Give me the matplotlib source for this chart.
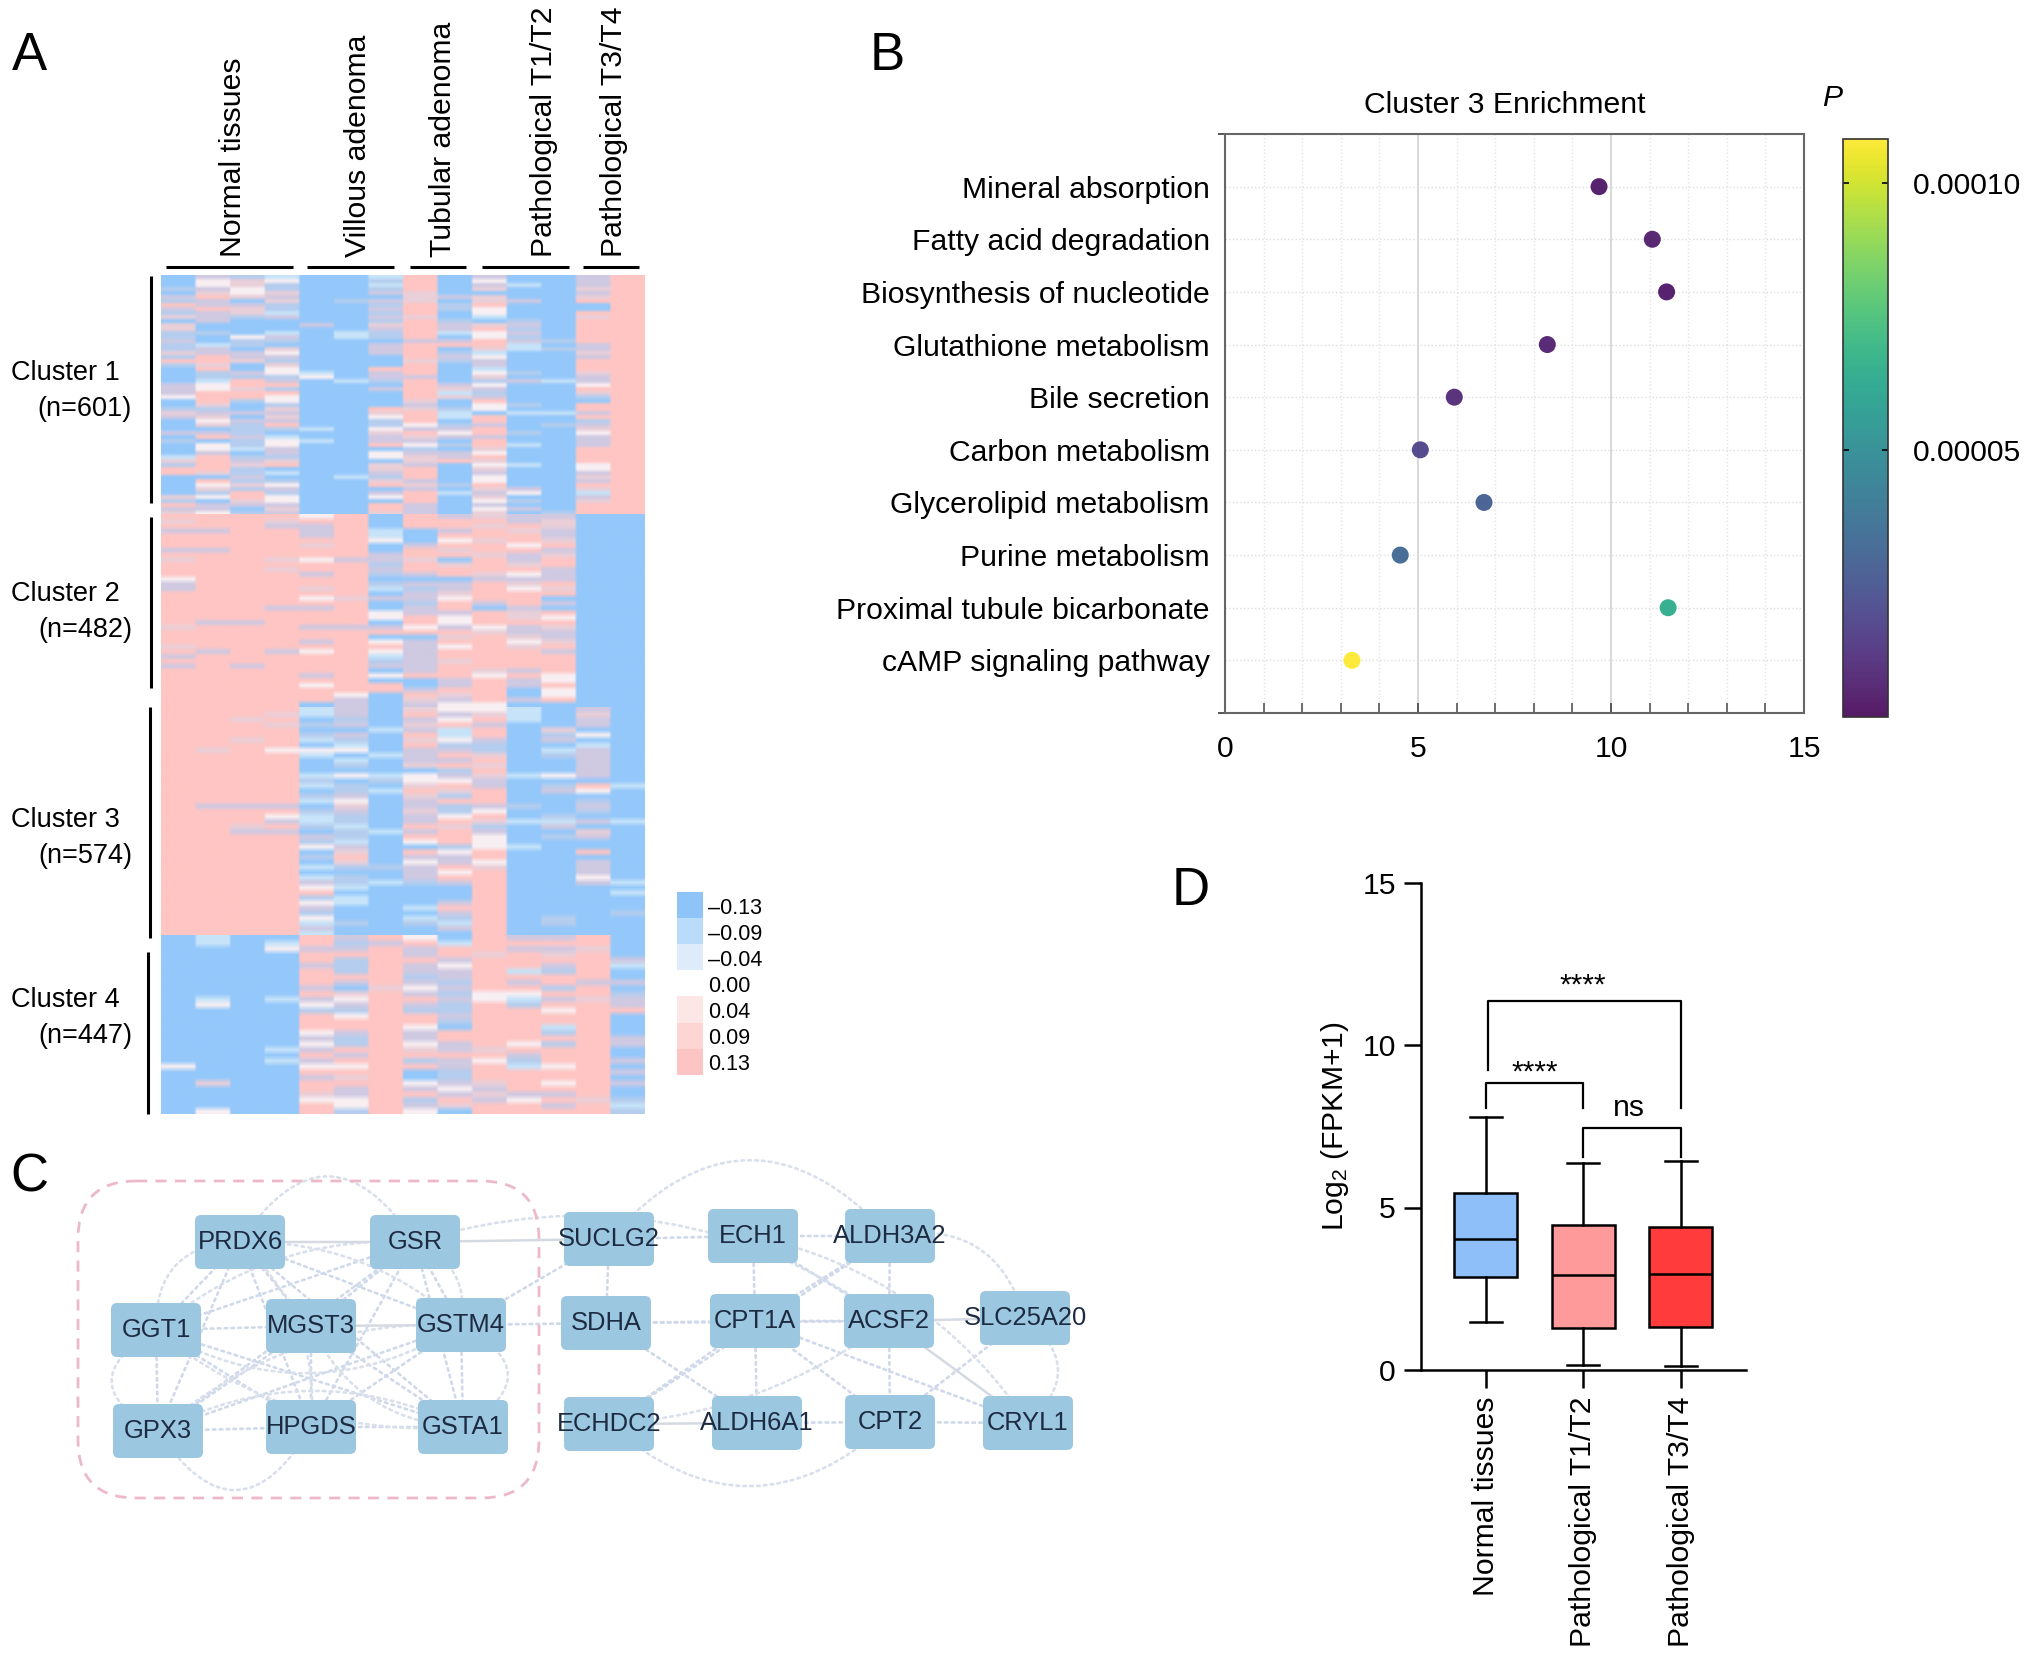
import matplotlib
matplotlib.use('Agg')
import numpy as np
import matplotlib.pyplot as plt
from matplotlib.colors import ListedColormap
from matplotlib.patches import FancyArrowPatch, FancyBboxPatch, Rectangle
from matplotlib.ticker import MultipleLocator

plt.rcParams['font.family'] = ['Liberation Sans', 'DejaVu Sans']
plt.rcParams['mathtext.default'] = 'regular'

W, H = 2032, 1653

# Panel A: heatmap cells
# B blue, C pale cyan, b blue-lilac, L lilac, l pink-lilac, P pink, W near white
cluster1_rows = [
    'BLbCBBCPBLBBLP', 'BWlWBBbPBWBBLP', 'BWlbBBCPBLCBLP', 'bLWbBBbPBlBBlP', 'BlWlBBLlBBBBLP',
    'LPlLBBBlLlBBlP', 'bLBlBbLlBlLBPP', 'PLLbBBbPbPBBBP', 'LPlbBBLPbWBBBP', 'bLlCBBbPBWBBPP',
    'lLbLBBLlBCBBlP', 'BLBBBBbPbBbBPP', 'lBBBLBlPLlLBPP', 'lBBBBBLPLPbBPP', 'bbBCBCbPCWLBPP',
    'bBWLBCbPBWbBPP', 'LBbbBBBLLPLbPP', 'bCbBBBLPPPCBLP', 'bLBlBBLPBlCbLP', 'lLLWBBLPbCBBlP',
    'bPLLBBBPLWBBLP', 'PPlbBBBlbLBBPP', 'blBlBBBPBLBBPP', 'BPBWBBPPBCBBPP', 'BbLWCBLPBWbBlP',
    'BbbbWBLLBlBBLP', 'BCPLBCbPBbLCLP', 'LWPPBBBPLWBBWP', 'LWlbBBLPlLBBPP', 'LPPPBBBPCbBBlP',
    'WPPWBBBPlLBBbP', 'BPbWBBBlBPBBBP', 'BlBbBBBLBWbBPP', 'bbBlBBPlbWBBPP', 'lLLLBBlPCBCCLP',
    'LlBlBBWPCPBBPP', 'BWLLBBbPBPBBbP', 'BlbPBBbWbLBbLP', 'BBbbCBWLLPBBlP', 'LLbBBBlPWPbBWP',
    'BPLCBBLlLLBBLP', 'bBbWCBLLBPBBLP', 'BWbWBBPWbPCBLP', 'BWCLBBBbBlBBPP', 'BLBLBBWLLWBBPP',
    'CPbbBBWlLPBBPP', 'lPLlBBBlPlBBPP', 'bPlPBBlLBWCBWP', 'PPbBBBlPBlBBWP', 'PlbCBBLPBLBBLP',
    'BBLBBCbPBWBBlP', 'BPbbBBlLBWBBLP', 'BWlWBBPlbPBBPP', 'BlbLBBBLBlLBlP', 'BbPbBBLPCLWBCP',
    'lWPWBBWPBlBBLP', 'bBlWBBBPBWbBlP', 'PLLLBBPLBLBBPP', 'LLBlBBPLBWLBPP', 'lWbLBBlLBlBbPP',
]
cluster2_rows = [
    'PPPPWPBPLlLLBB', 'lPPlPPBPPPLlBB', 'PPPLLPBPPlPlBB', 'LLPPLPCBLPlLBB', 'PPPPLPCBPPPLBB',
    'PPPPPPWBWlPlBB', 'PPPPlPBLPPWPBB', 'LLPPPPBPlPPLBB', 'PPPPPPLPPlLlBB', 'lPPlWLLlBPLPBB',
    'PPPPPPbPlPlPBB', 'PPPlPPLPPPPLBB', 'PPPPLPbLPlWLBB', 'WPPPPPBBBLLLBB', 'LPPPPPbLLPlPBB',
    'LPPPlPCbLPWlBB', 'PPPPPPBLlPPPBB', 'PPPPWlLLWPPBBB', 'PPPPPPBbPLPLBB', 'PPPLLPBLPBLBBB',
    'PPPPPPWLLPlPBB', 'PPPPPPWPWPlWBB', 'PLLPPPBPWPPPBB', 'lPPPLLLWLWLlBB', 'PPPPPPPPPlLLBB',
    'PPPPPPBBlPlLBB', 'PPPPLPWLPPWlBB', 'lPPPPPPLWPlPBB', 'PLPLWPWLPPPLBB', 'LPPPPPCLPPPPBB',
    'PPPPPPbLlPPPBB', 'LPLPPPLLPPPPBB', 'PPPPPPBLPlLPBB', 'PPPPLPWPPWPWBB', 'PPPPPPBBLPLWBB',
    'PPPPWPPBLPLPBB', 'PPPPPPPLPPBWBB', 'PPPPPWBPlPBWBB', 'PPPPPLBlLPLPBB', 'PPPPBLBLWWBBBB',
]
cluster3_rows = [
    'PPPPCLBlWWCBLB', 'PPPlCLBPLlCBlB', 'PPlPBbBLWPCBLB', 'PPPlbLBlPLBBLB', 'PPPPBBCLCPBlBB',
    'PPPPbLBPCPBbWB', 'PPlPCbBlWLBLBB', 'PPPPBCBPbbBBCB', 'PlPWWWBLLbBCLB', 'PPPPCBCLPlBbLB',
    'PPPPBCBLLPBBLB', 'PPPPBbBlPlBBLB', 'PPPPBBBBbPBBLB', 'PPPPCWCWLlCWLB', 'PPPPbBbWWLBBBB',
    'PPPPCbBlPLBbPC', 'PPPPBbCPlPBLWB', 'PPPPbLBlbPBBBB', 'PPPPCWBLPPBBbB', 'PLLLBlBLbLbBLB',
    'PPPPbLBlbWBBbB', 'PPPWCbBLWPBbBB', 'PPPLCbBLPlCCLC', 'PPlPbCBPlbBLBB', 'PPLLBbCLPLBBlB',
    'PPPPLbBPPWBbLB', 'PPPPbCBWPWBBBB', 'PPPPWLBBbWCBBB', 'PPPPBlBPWPBBPB', 'PPPPbPBLLPBBBB',
    'PPPPBlBWLWBBLB', 'PPPPCbbLPlBBLB', 'PPPPBBBLWPBBLB', 'PPPPCbBLPPBBWB', 'PPPPLbCbLPBBLC',
    'PPPPWCBBBPBBBB', 'PPPPPBBBBPBBBC', 'PPPPbCBBBPBBBB', 'PPPPWCBBLPBBBB', 'PPPPLBBCPPBBBB',
    'PPPPbBBBLPBBBb', 'PPPPWBBCbPBbBB', 'PPPPCbBbCPBbBB', 'PPPPLBBBLPBBBB', 'PPPPCBBBBPBBBB',
]
cluster4_rows = [
    'BCBBPLPWBPLLPB', 'BCBCPbLPCPPPPB', 'BBBWLLPLPPLLlB', 'BBBBPPPLPlPlPB', 'BBBBPbPPLPPPPL',
    'BBBBLbPLWPPLPC', 'BBBBPbPLLPCbPB', 'BBBBPPPbLPPPPB', 'BBBBPLPLbPLPLL', 'BBBBLBlWLPPbPB',
    'BBBBPlPLbWWPPb', 'BCBCLWPPLWCLlL', 'BWBBWLPLbPbPPL', 'BBBBbbPbbPPWPP', 'BBBBPWPPLPPPPB',
    'BBBBPPPPbPPPPB', 'BBBBPPPWBPPCPB', 'BBBBWLPLPPPbPB', 'BBBBLbPLPPPPPL', 'BBBBWbPWLPWbPL',
    'BBBCLPPlLlPPPB', 'BBBBPLPPPPLPPB', 'BBBCLPPbLWbPPL', 'WBBBWWPPLPCWPB', 'BBBBPPPBbPPPPL',
    'BBBBLlPBbPPPPB', 'BlBBPPPWLlPWPL', 'BBBBPLPLWLPPPB', 'BBBBlLPPLlLLPB', 'BBBBWWPbPLWPlb',
    'BBBBPWPLlPPLPC', 'BWBBPbPWBPPPPb',
]
cluster_sizes = [601, 482, 574, 447]
cluster_names = ['Cluster 1', 'Cluster 2', 'Cluster 3', 'Cluster 4']
cluster_counts = ['(n=601)', '(n=482)', '(n=574)', '(n=447)']
sample_groups = ['Normal tissues', 'Villous adenoma', 'Tubular adenoma', 'Pathological T1/T2', 'Pathological T3/T4']
legend_values = ['\u20130.13', '\u20130.09', '\u20130.04', '0.00', '0.04', '0.09', '0.13']

# Panel B
pathways = ['Mineral absorption', 'Fatty acid degradation', 'Biosynthesis of nucleotide',
            'Glutathione metabolism', 'Bile secretion', 'Carbon metabolism',
            'Glycerolipid metabolism', 'Purine metabolism', 'Proximal tubule bicarbonate',
            'cAMP signaling pathway']
enrichment = [9.69, 11.07, 11.44, 8.35, 5.94, 5.06, 6.71, 4.54, 11.48, 3.29]
p_values = [0.3e-5, 0.5e-5, 0.3e-5, 0.55e-5, 0.9e-5, 1.8e-5, 2.8e-5, 3.2e-5, 6.5e-5, 10.83e-5]

# Panel C
node_names = ['PRDX6', 'GSR', 'GGT1', 'MGST3', 'GSTM4', 'GPX3', 'HPGDS', 'GSTA1', 'SUCLG2', 'SDHA',
              'ECHDC2', 'ECH1', 'CPT1A', 'ALDH6A1', 'ALDH3A2', 'ACSF2', 'CPT2', 'SLC25A20', 'CRYL1']
solid_edges = [('PRDX6', 'GSR'), ('GSR', 'SUCLG2'), ('ECHDC2', 'ALDH6A1'), ('ACSF2', 'SLC25A20'),
               ('MGST3', 'GSTM4'), ('ACSF2', 'CRYL1')]
dotted_edges = [('PRDX6', 'GGT1'), ('PRDX6', 'MGST3'), ('PRDX6', 'GSTM4'), ('PRDX6', 'GPX3'), ('PRDX6', 'HPGDS'),
                ('PRDX6', 'GSTA1'), ('GSR', 'GGT1'), ('GSR', 'MGST3'), ('GSR', 'GSTM4'), ('GSR', 'GPX3'),
                ('GSR', 'HPGDS'), ('GSR', 'GSTA1'), ('GGT1', 'MGST3'), ('GGT1', 'GPX3'), ('GGT1', 'HPGDS'),
                ('GGT1', 'GSTA1'), ('MGST3', 'GPX3'), ('MGST3', 'HPGDS'), ('MGST3', 'GSTA1'), ('GSTM4', 'GPX3'),
                ('GSTM4', 'HPGDS'), ('GSTM4', 'GSTA1'), ('GPX3', 'HPGDS'), ('HPGDS', 'GSTA1'), ('SUCLG2', 'ECH1'),
                ('SUCLG2', 'SDHA'), ('ECH1', 'ALDH3A2'), ('ECH1', 'CPT1A'), ('ECH1', 'ACSF2'), ('ALDH3A2', 'ACSF2'),
                ('ALDH3A2', 'CPT1A'), ('ALDH3A2', 'ECHDC2'), ('SDHA', 'ALDH6A1'), ('SDHA', 'CPT1A'),
                ('SDHA', 'ACSF2'), ('CPT1A', 'ACSF2'), ('CPT1A', 'ALDH6A1'), ('CPT1A', 'ECHDC2'), ('CPT1A', 'CPT2'),
                ('CPT1A', 'CRYL1'), ('ACSF2', 'CPT2'), ('SLC25A20', 'CPT2'), ('ALDH6A1', 'CPT2'), ('CPT2', 'CRYL1'),
                ('GSTM4', 'SDHA'), ('SUCLG2', 'GSTM4')]
arc_edges = [('PRDX6', 'GSR', -0.75), ('GGT1', 'GPX3', 0.9), ('GSTM4', 'GSTA1', -0.9), ('GPX3', 'HPGDS', 0.8),
             ('GGT1', 'GSTM4', 0.3), ('GPX3', 'GSTA1', -0.25), ('PRDX6', 'GGT1', 0.5), ('GSR', 'GSTM4', -0.4),
             ('GSR', 'GGT1', 0.2), ('PRDX6', 'GSTM4', -0.2), ('GGT1', 'GSTA1', 0.2), ('GPX3', 'GSTM4', -0.2),
             ('MGST3', 'GSTA1', 0.3), ('HPGDS', 'PRDX6', 0.25),
             ('SUCLG2', 'ALDH3A2', -0.55), ('ALDH3A2', 'SLC25A20', -0.45), ('ECHDC2', 'CPT2', 0.45),
             ('GSR', 'ACSF2', -0.25), ('ECH1', 'CRYL1', -0.2), ('SLC25A20', 'CRYL1', -0.6), ('ECHDC2', 'ACSF2', 0.15)]

# Panel D
box_groups = ['Normal tissues', 'Pathological T1/T2', 'Pathological T3/T4']
whisker_high = [7.8, 6.37, 6.43]
q3_values = [5.45, 4.46, 4.41]
medians = [4.02, 2.91, 2.95]
q1_values = [2.85, 1.28, 1.32]
whisker_low = [1.47, 0.14, 0.13]

fig = plt.figure(figsize=(W / 100, H / 100), dpi=100)


def px_axes(left, top, right, bottom):
    return fig.add_axes([left / W, 1 - bottom / H, (right - left) / W, (bottom - top) / H])


bg = fig.add_axes([0, 0, 1, 1])
bg.set_xlim(0, W)
bg.set_ylim(H, 0)
bg.axis('off')

for letter, x, y in [('A', 29, 56), ('B', 887, 56), ('C', 29, 1178), ('D', 1191, 891)]:
    bg.text(x, y, letter, fontsize=38, ha='center', va='center')

# ---- A: heatmap
codes = 'BCbLlPW'
heat_cmap = ListedColormap(['#94C8FB', '#C6E3F9', '#B5CDEE', '#CFC9E2', '#E9CFD8', '#FFC5C3', '#F8EFF2'])
ax_heat = px_axes(161, 275, 645, 1114)
start = 0
for rows, size in zip([cluster1_rows, cluster2_rows, cluster3_rows, cluster4_rows], cluster_sizes):
    cells = np.array([[codes.index(c) for c in row] for row in rows])
    # widen the cells so the smoothing below only softens the rows, not the columns
    rgb = heat_cmap(np.repeat(cells, 12, axis=1) / 6)[:, :, :3]
    ax_heat.imshow(rgb, aspect='auto', interpolation='bilinear', extent=(0, 14, start + size, start))
    start += size
ax_heat.set_xlim(0, 14)
ax_heat.set_ylim(sum(cluster_sizes), 0)
ax_heat.axis('off')

group_bars = [(166, 293), (307, 394), (410, 466), (482, 569), (583, 639)]
group_text_x = [233, 358, 443, 544, 614]
for name, (x0, x1), tx in zip(sample_groups, group_bars, group_text_x):
    bg.plot([x0, x1], [267, 267], color='black', lw=2.2, solid_capstyle='butt')
    bg.text(tx, 257, name, rotation=90, fontsize=21.7, ha='center', va='bottom')

cluster_bars = [(151, 276, 503), (151, 517, 688), (150, 707, 938), (148, 952, 1114)]
cluster_text_y = [373, 594, 820, 1000]
for name, count, (x, y0, y1), ty in zip(cluster_names, cluster_counts, cluster_bars, cluster_text_y):
    bg.plot([x, x], [y0, y1], color='black', lw=2.2, solid_capstyle='butt')
    bg.text(11, ty, name, fontsize=19.5, ha='left', va='center')
    bg.text(132, ty + 36, count, fontsize=19.5, ha='right', va='center')

legend_colors = ['#8FC4F9', '#BBDBFB', '#DDEBFA', '#FFFFFF', '#FCE6E6', '#FDD5D3', '#FDC4C4']
for i, (value, col) in enumerate(zip(legend_values, legend_colors)):
    y0 = 892 + i * 26.1
    bg.add_patch(Rectangle((677, y0), 26, 26.1, facecolor=col, edgecolor='none'))
    bg.text(708, y0 + 16, value, fontsize=15.5, ha='left', va='center')

# ---- B: enrichment dots
ax_dot = px_axes(1225, 134, 1804, 713)
ypos = np.arange(len(pathways))
dots = ax_dot.scatter(enrichment, ypos, c=p_values, cmap='viridis', vmin=0, vmax=1.083e-4,
                      s=150, alpha=0.9, linewidths=0, zorder=3)
ax_dot.set_xlim(0, 15)
ax_dot.set_ylim(10, -1)
ax_dot.set_yticks(ypos)
ax_dot.set_yticklabels(pathways, fontsize=21.7, va='center_baseline')
ax_dot.set_yticks([-1, 10], minor=True)
ax_dot.set_xticks([0, 5, 10, 15])
ax_dot.xaxis.set_minor_locator(MultipleLocator(1))
ax_dot.tick_params(axis='x', which='major', direction='in', length=7, width=1.4, color='#555555',
                   labelsize=21.7, pad=16)
ax_dot.tick_params(axis='x', which='minor', direction='in', length=7, width=1.2, color='#555555')
ax_dot.tick_params(axis='y', which='major', length=0, pad=11)
ax_dot.tick_params(axis='y', which='minor', length=5, width=1.4, color='#555555')
ax_dot.grid(axis='x', which='major', color='#d6d6d6', lw=1.3)
ax_dot.grid(axis='x', which='minor', color='#e4e4e4', lw=1, ls=':')
ax_dot.grid(axis='y', which='major', color='#dedede', lw=1, ls=':')
ax_dot.set_axisbelow(True)
for side in ax_dot.spines:
    ax_dot.spines[side].set_color('#666666')
    ax_dot.spines[side].set_linewidth(1.5)
bg.text(1505, 105, 'Cluster 3 Enrichment', fontsize=21.7, ha='center', va='center')
bg.text(1832, 98, 'P', fontsize=21.7, style='italic', ha='center', va='center')

cax = px_axes(1843, 139, 1888, 717)
cbar = fig.colorbar(dots, cax=cax)
cbar.set_ticks([5e-5, 1e-4], labels=['0.00005', '0.00010'])
cbar.ax.tick_params(direction='in', length=4, width=1.2, left=True, right=True, labelsize=21.7, pad=18)
cbar.outline.set_linewidth(1.2)
cbar.outline.set_edgecolor('#333333')

# ---- C: network
node_xy = {'PRDX6': (240, 1242), 'GSR': (415, 1242), 'GGT1': (156, 1330), 'MGST3': (311, 1326),
           'GSTM4': (461, 1325), 'GPX3': (158, 1431), 'HPGDS': (311, 1427), 'GSTA1': (463, 1427),
           'SUCLG2': (609, 1239), 'SDHA': (606, 1323), 'ECHDC2': (609, 1424), 'ECH1': (753, 1236),
           'CPT1A': (755, 1321), 'ALDH6A1': (757, 1423), 'ALDH3A2': (890, 1236), 'ACSF2': (889, 1321),
           'CPT2': (890, 1422), 'SLC25A20': (1025, 1318), 'CRYL1': (1028, 1423)}


def draw_edge(a, b, rad, style, color, lw):
    bg.add_patch(FancyArrowPatch(node_xy[a], node_xy[b], connectionstyle=f'arc3,rad={rad}', arrowstyle='-',
                                 linestyle=style, color=color, lw=lw, shrinkA=0, shrinkB=0, zorder=1))


for a, b in dotted_edges:
    draw_edge(a, b, 0, (0, (1, 1.6)), '#d0d9ea', 1.9)
for a, b, rad in arc_edges:
    draw_edge(a, b, rad, (0, (1, 1.6)), '#d9e0ec', 1.9)
for a, b in solid_edges:
    draw_edge(a, b, 0, '-', '#d5dae2', 1.8)

bg.add_patch(FancyBboxPatch((78, 1181), 461, 317, boxstyle='round,pad=0,rounding_size=58',
                            fill=False, edgecolor='#EDB9C9', lw=2, linestyle=(0, (4, 3)), zorder=2))
for name in node_names:
    x, y = node_xy[name]
    bg.add_patch(FancyBboxPatch((x - 40, y - 22), 80, 44, boxstyle='round,pad=5,rounding_size=6',
                                facecolor='#9CC7E0', edgecolor='none', zorder=3))
    bg.text(x, y, name, fontsize=18.4, color='#1d2b42', ha='center', va='center', zorder=4)

# ---- D: box plot
ax_box = px_axes(1421, 882.5, 1746, 1370)
stats = []
for i in range(len(box_groups)):
    stats.append({'whislo': whisker_low[i], 'q1': q1_values[i], 'med': medians[i],
                  'q3': q3_values[i], 'whishi': whisker_high[i]})
black_line = dict(color='black', lw=1.8)
parts = ax_box.bxp(stats, positions=[1, 2, 3], widths=0.65, capwidths=0.33, showfliers=False, patch_artist=True,
                   boxprops=dict(edgecolor='black', lw=1.8), medianprops=black_line,
                   whiskerprops=black_line, capprops=black_line)
for patch, col in zip(parts['boxes'], ['#8FBFF8', '#FF9A9A', '#FF3B3B']):
    patch.set_facecolor(col)
ax_box.set_xlim(0.336, 3.67)
ax_box.set_ylim(0, 15)
ax_box.set_yticks([0, 5, 10, 15])
ax_box.set_xticks([1, 2, 3])
ax_box.set_xticklabels(box_groups, rotation=90, fontsize=21.7)
ax_box.tick_params(axis='y', length=12, width=1.8, labelsize=21.7, pad=6)
ax_box.tick_params(axis='x', length=13, width=1.8, pad=6)
ax_box.set_ylabel('Log$_2$ (FPKM+1)', fontsize=21.7, labelpad=8)
ax_box.spines['top'].set_visible(False)
ax_box.spines['right'].set_visible(False)
ax_box.spines['left'].set_linewidth(1.8)
ax_box.spines['bottom'].set_linewidth(1.8)

ax_box.plot([1.02, 1.02, 3, 3], [9.23, 11.34, 11.34, 8.05], color='black', lw=1.6)
ax_box.plot([1, 1, 2, 2], [8.05, 8.84, 8.84, 8.05], color='black', lw=1.6)
ax_box.plot([2, 2, 3, 3], [6.55, 7.45, 7.45, 6.55], color='black', lw=1.6)
ax_box.text(2, 11.83, '****', fontsize=21.7, ha='center', va='center')
ax_box.text(1.5, 9.15, '****', fontsize=21.7, ha='center', va='center')
ax_box.text(2.47, 8.05, 'ns', fontsize=21.7, ha='center', va='center')

fig.savefig('out.png', dpi=100)
